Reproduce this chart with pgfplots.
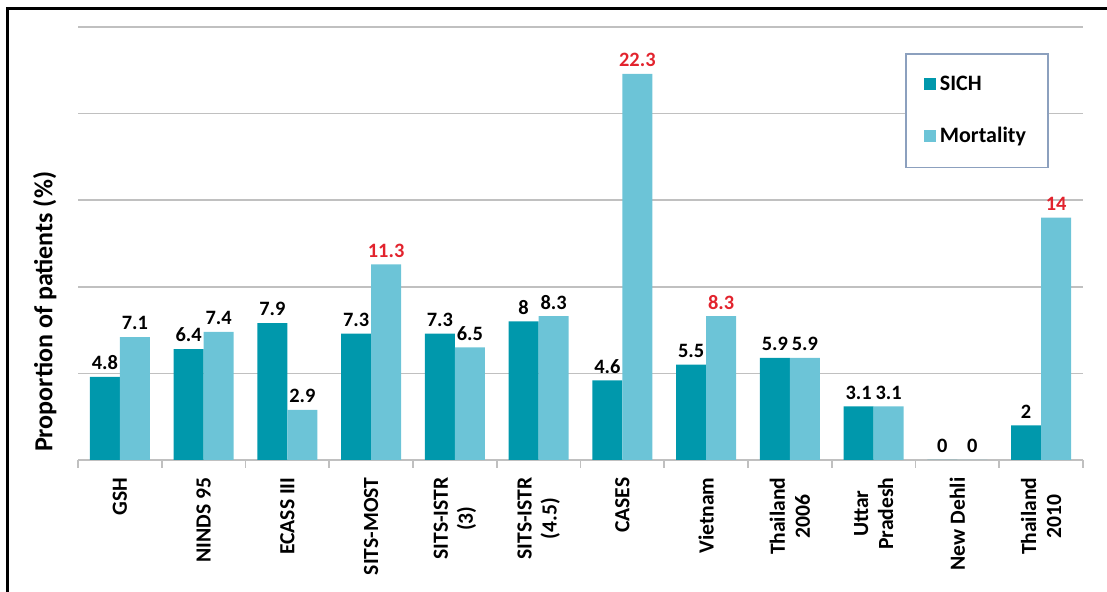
\documentclass[border=0pt]{standalone}
\usepackage{pgfplots}
\pgfplotsset{compat=1.18}
\usepackage{fontspec}
\setmainfont{Carlito}
\definecolor{sich}{RGB}{0,152,172}
\definecolor{mort}{RGB}{108,196,215}
\definecolor{lblred}{RGB}{226,35,45}
\definecolor{gridgray}{RGB}{192,192,192}
\definecolor{legborder}{RGB}{140,160,190}
\newcommand\R[1]{\textcolor{lblred}{#1}}
\begin{document}
\begin{tikzpicture}
\path[use as bounding box] (0,0) rectangle (553.5pt,296pt);
\draw[line width=1.5pt] (3.5pt,0) -- (3.5pt,291.5pt) -- (553.5pt,291.5pt);
\begin{axis}[
  at={(39pt,66pt)}, anchor=south west,
  scale only axis, width=502.5pt, height=216.5pt,
  ybar=0pt, bar width=15pt,
  xmin=-0.5, xmax=11.5, ymin=0, ymax=25,
  axis x line*=bottom, axis y line*=left,
  y axis line style={draw=none},
  x axis line style={gridgray, line width=0.8pt},
  xtick={0,...,11},
  xticklabels={GSH, NINDS 95, ECASS III, SITS-MOST, {SITS-ISTR\\(3)}, {SITS-ISTR\\(4.5)}, CASES, Vietnam, {Thailand\\2006}, {Uttar\\Pradesh}, New Dehli, {Thailand\\2010}},
  xticklabel style={yshift=-1pt, rotate=90, anchor=east, align=center, font=\fontsize{10.8}{12.5}\selectfont\bfseries},
  major x tick style={draw=none},
  minor xtick={-0.5,0.5,...,11.5},
  minor x tick style={gridgray, line width=0.8pt},
  minor tick length=4pt,
  tick align=outside,
  ytick={5,10,15,20,25},
  yticklabels={},
  major y tick style={draw=none},
  ymajorgrids,
  grid style={gridgray, line width=0.8pt},
  ylabel={Proportion of patients (\%)},
  ylabel style={at={(axis description cs:-0.033,0.342)}, anchor=center, font=\fontsize{13}{15}\selectfont\bfseries},
  nodes near coords,
  point meta=explicit symbolic,
  every node near coord/.append style={font=\fontsize{10.2}{12}\selectfont\bfseries, text=black},
  legend style={at={(rel axis cs:0.823,0.94)}, anchor=north west, draw=legborder, line width=0.8pt, fill=white,
    font=\fontsize{11}{13}\selectfont\bfseries, inner xsep=9pt, inner ysep=9pt, row sep=13pt},
  legend cell align=left,
  legend image code/.code={\fill[#1] (0pt,-3pt) rectangle (6pt,3pt);},
]
\addplot[fill=sich, draw=none] coordinates {
  (0,4.8) [4.8] (1,6.4) [6.4] (2,7.9) [7.9] (3,7.3) [7.3] (4,7.3) [7.3] (5,8) [8]
  (6,4.6) [4.6] (7,5.5) [5.5] (8,5.9) [5.9] (9,3.1) [3.1] (10,0) [0] (11,2) [2]
};
\addplot[fill=mort, draw=none] coordinates {
  (0,7.1) [7.1] (1,7.4) [7.4] (2,2.9) [2.9] (3,11.3) [\R{11.3}] (4,6.5) [6.5] (5,8.3) [8.3]
  (6,22.3) [\R{22.3}] (7,8.3) [\R{8.3}] (8,5.9) [5.9] (9,3.1) [3.1] (10,0) [0] (11,14) [\R{14}]
};
\legend{SICH, Mortality}
\end{axis}
\end{tikzpicture}
\end{document}
